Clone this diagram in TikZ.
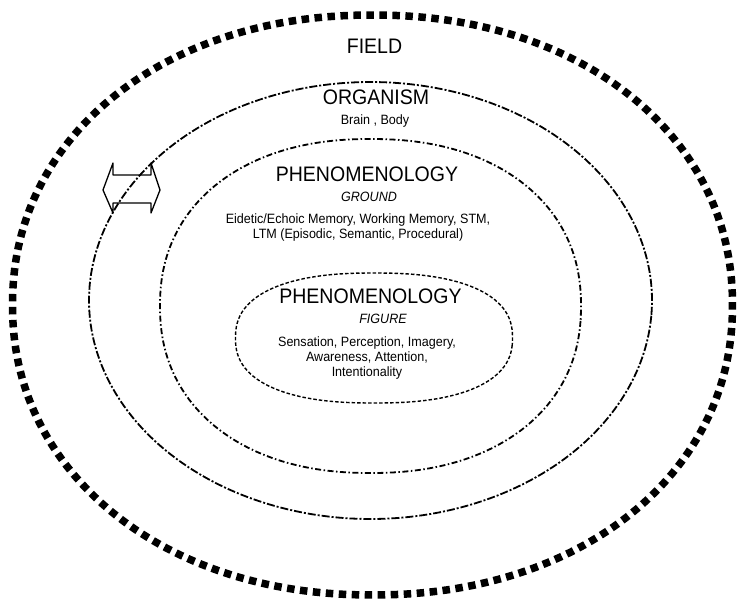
\documentclass[tikz,border=0pt]{standalone}
\usepackage{fontspec}
\setmainfont{Liberation Sans}[FakeStretch=0.93]
% closed rounded ring: style, centre x, centre y, radius x, radius y, squareness
\newcommand{\ringpath}[6]{%
  \draw[#1] plot[smooth cycle,domain=1:358,samples=120]
    ({#2+#4*cos(\x)*pow(abs(cos(\x)),2/#6-1)},{#3+#5*sin(\x)*pow(abs(sin(\x)),2/#6-1)});}
\begin{document}
\begin{tikzpicture}[x=1pt,y=-1pt,
  fieldring/.style={draw=black,line width=7.5pt,dash pattern=on 7.5pt off 5.5pt},
  organismring/.style={draw=black,line width=1.8pt,dash pattern=on 8pt off 2pt on 2pt off 2pt},
  groundring/.style={draw=black,line width=1.8pt,dash pattern=on 6pt off 2.5pt on 1.5pt off 2.5pt},
  figurering/.style={draw=black,line width=1.4pt,dash pattern=on 3.5pt off 2pt},
  title/.style={inner sep=0pt,font=\fontsize{21}{25}\selectfont},
  subtitle/.style={inner sep=0pt,font=\fontsize{13.5}{15.5}\selectfont\itshape},
  detail/.style={inner sep=0pt,align=center,font=\fontsize{13.5}{15}\selectfont},
  exchange/.style={draw=black,line width=1.3pt,line join=round}]
\useasboundingbox (0,0) rectangle (737,602);

% nested rings
\ringpath{fieldring}{372.5}{305}{360}{290}{2.1}
\ringpath{organismring}{370.5}{300.5}{281.5}{218.5}{2}
\ringpath{groundring}{370.5}{306}{210.5}{167}{2.2}
\ringpath{figurering}{374}{338}{138.5}{65}{2.4}

% labels
\node[title] (fieldlabel) at (374.5,46) {FIELD};
\node[title] (organismlabel) at (376,97) {ORGANISM};
\node[detail] (organismparts) at (375,121) {Brain , Body};

\node[title] (groundlabel) at (367,174) {PHENOMENOLOGY};
\node[subtitle] (groundsub) at (369,197) {GROUND};
\node[detail] (groundparts) at (358,228) {Eidetic/Echoic Memory, Working Memory, STM,\\LTM (Episodic, Semantic, Procedural)};

\node[title] (figurelabel) at (370.5,296) {PHENOMENOLOGY};
\node[subtitle] (figuresub) at (383,319) {FIGURE};
\node[detail] (figureparts) at (367,358) {Sensation, Perception, Imagery,\\Awareness, Attention,\\Intentionality};

% two-way exchange across the organism boundary
\coordinate (exL) at (103,190);
\coordinate (exR) at (160,190);
\draw[exchange] (exL) -- (113,163) -- (113,175) -- (151,175) -- (151,163) -- (exR)
  -- (151,213) -- (151,203) -- (113,203) -- (113,213) -- cycle;
\end{tikzpicture}
\end{document}
